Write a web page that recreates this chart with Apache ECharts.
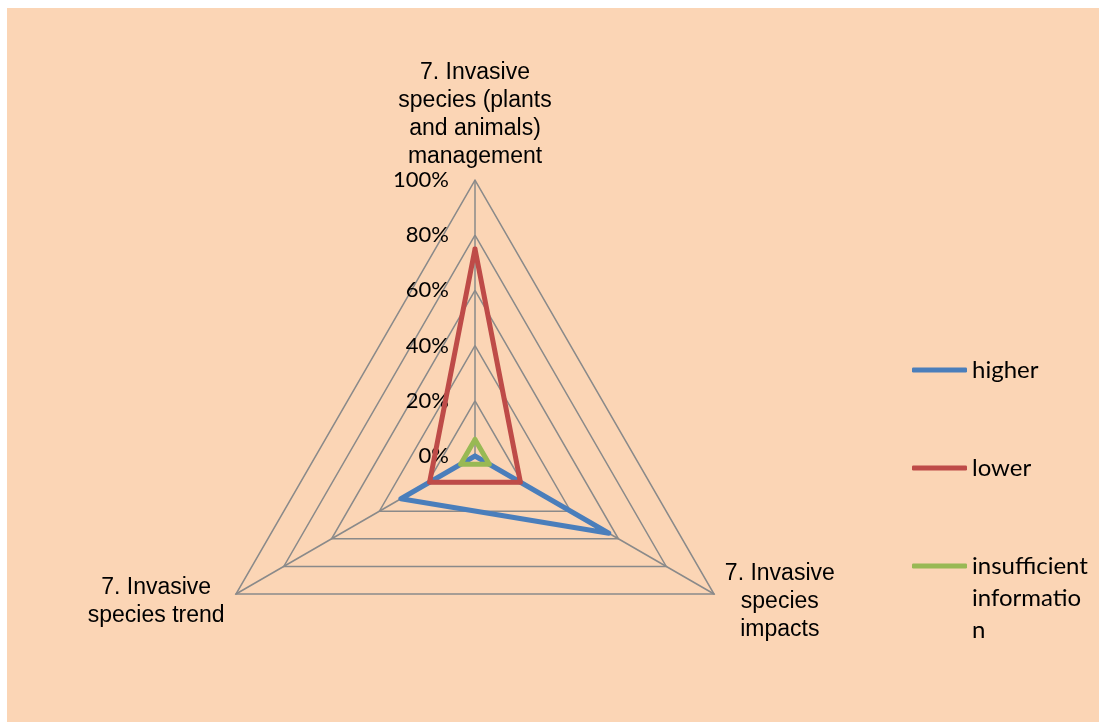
<!DOCTYPE html>
<html>
<head>
<meta charset="utf-8">
<script src="https://cdn.jsdelivr.net/npm/echarts@6/dist/echarts.min.js"></script>
<style>
  html, body { margin: 0; padding: 0; background: #ffffff; }
  #chart { position: absolute; left: 7px; top: 8px; width: 1092px; height: 714px; }
</style>
</head>
<body>
<div id="chart"></div>
<script>
// Radar axes (one per indicator), in drawing order: top, lower-left, lower-right
const indicatorNames = [
  '7. Invasive\nspecies (plants\nand animals)\nmanagement',
  '7. Invasive\nspecies trend',
  '7. Invasive\nspecies\nimpacts'
];

// Share of responses (%) per indicator
const seriesNames = ['higher', 'lower', 'insufficient information'];
const higher = [0, 31, 56];
const lower = [75, 19, 19];
const insufficient = [6, 6, 6];

// Value axis: 0% .. 100% in steps of 20%
const axisMin = 0;
const axisMax = 100;
const axisSteps = 5;

// Legend label as it wraps in the key; the two leading blank lines keep
// the first text line level with the key's line (text is centred on it)
const legendLabels = {
  'higher': 'higher',
  'lower': 'lower',
  'insufficient information': '\n\ninsufficient\ninformatio\nn'
};

const colors = ['#4A7EBB', '#BE4B48', '#98B954'];
const seriesValues = [higher, lower, insufficient];

// rich style per axis name so each block is centred line by line
const nameStyleKeys = ['t', 'l', 'r'];
const nameFont = { fontFamily: 'Liberation Sans', fontSize: 23, lineHeight: 28, color: '#000' };

const chart = echarts.init(document.getElementById('chart'), null, { renderer: 'canvas' });

const legendCommon = {
  orient: 'vertical',
  left: 905,
  padding: 0,
  itemWidth: 55,
  itemHeight: 5,
  itemGap: 66,
  icon: 'roundRect',
  selectedMode: false,
  formatter: name => legendLabels[name],
  textStyle: { fontFamily: 'Lato', fontSize: 24, lineHeight: 32, color: '#000' }
};

chart.setOption({
  backgroundColor: '#FBD5B5',
  animation: false,
  color: colors,
  legend: [
    Object.assign({}, legendCommon, { top: 346, data: seriesNames.slice(0, 2) }),
    Object.assign({}, legendCommon, { top: 478, data: seriesNames.slice(2) })
  ],
  radar: {
    center: [468, 448],
    radius: 276,
    startAngle: 90,
    shape: 'polygon',
    splitNumber: axisSteps,
    nameGap: 9,
    indicator: indicatorNames.map((n, i) => {
      const ind = { name: n, min: axisMin, max: axisMax, nameMoveOverlap: false };
      if (i === 0) ind.axisLabel = { show: true };
      return ind;
    }),
    axisName: Object.assign({}, nameFont, {
      padding: [6, 2, 0, 2],
      formatter: function (name) {
        const k = nameStyleKeys[indicatorNames.indexOf(name)] || 't';
        return name.split('\n').map(s => '{' + k + '|' + s + '}').join('\n');
      },
      rich: {
        t: Object.assign({ align: 'center' }, nameFont),
        l: Object.assign({ align: 'center', width: 140 }, nameFont),
        r: Object.assign({ align: 'center', width: 112 }, nameFont)
      }
    }),
    axisLine: { lineStyle: { color: '#8A8A8A', width: 1.5 } },
    splitLine: { lineStyle: { color: '#8A8A8A', width: 1.5 } },
    splitArea: { show: false },
    axisTick: { show: false },
    axisLabel: {
      show: false,
      formatter: '{value}%',
      color: '#000',
      fontFamily: 'Lato',
      fontSize: 22,
      margin: 26
    }
  },
  series: [{
    type: 'radar',
    symbol: 'none',
    data: seriesNames.map((n, i) => ({
      name: n,
      value: seriesValues[i],
      itemStyle: { color: colors[i] },
      lineStyle: { color: colors[i], width: 5, join: 'round', cap: 'round' }
    }))
  }]
});
</script>
</body>
</html>
